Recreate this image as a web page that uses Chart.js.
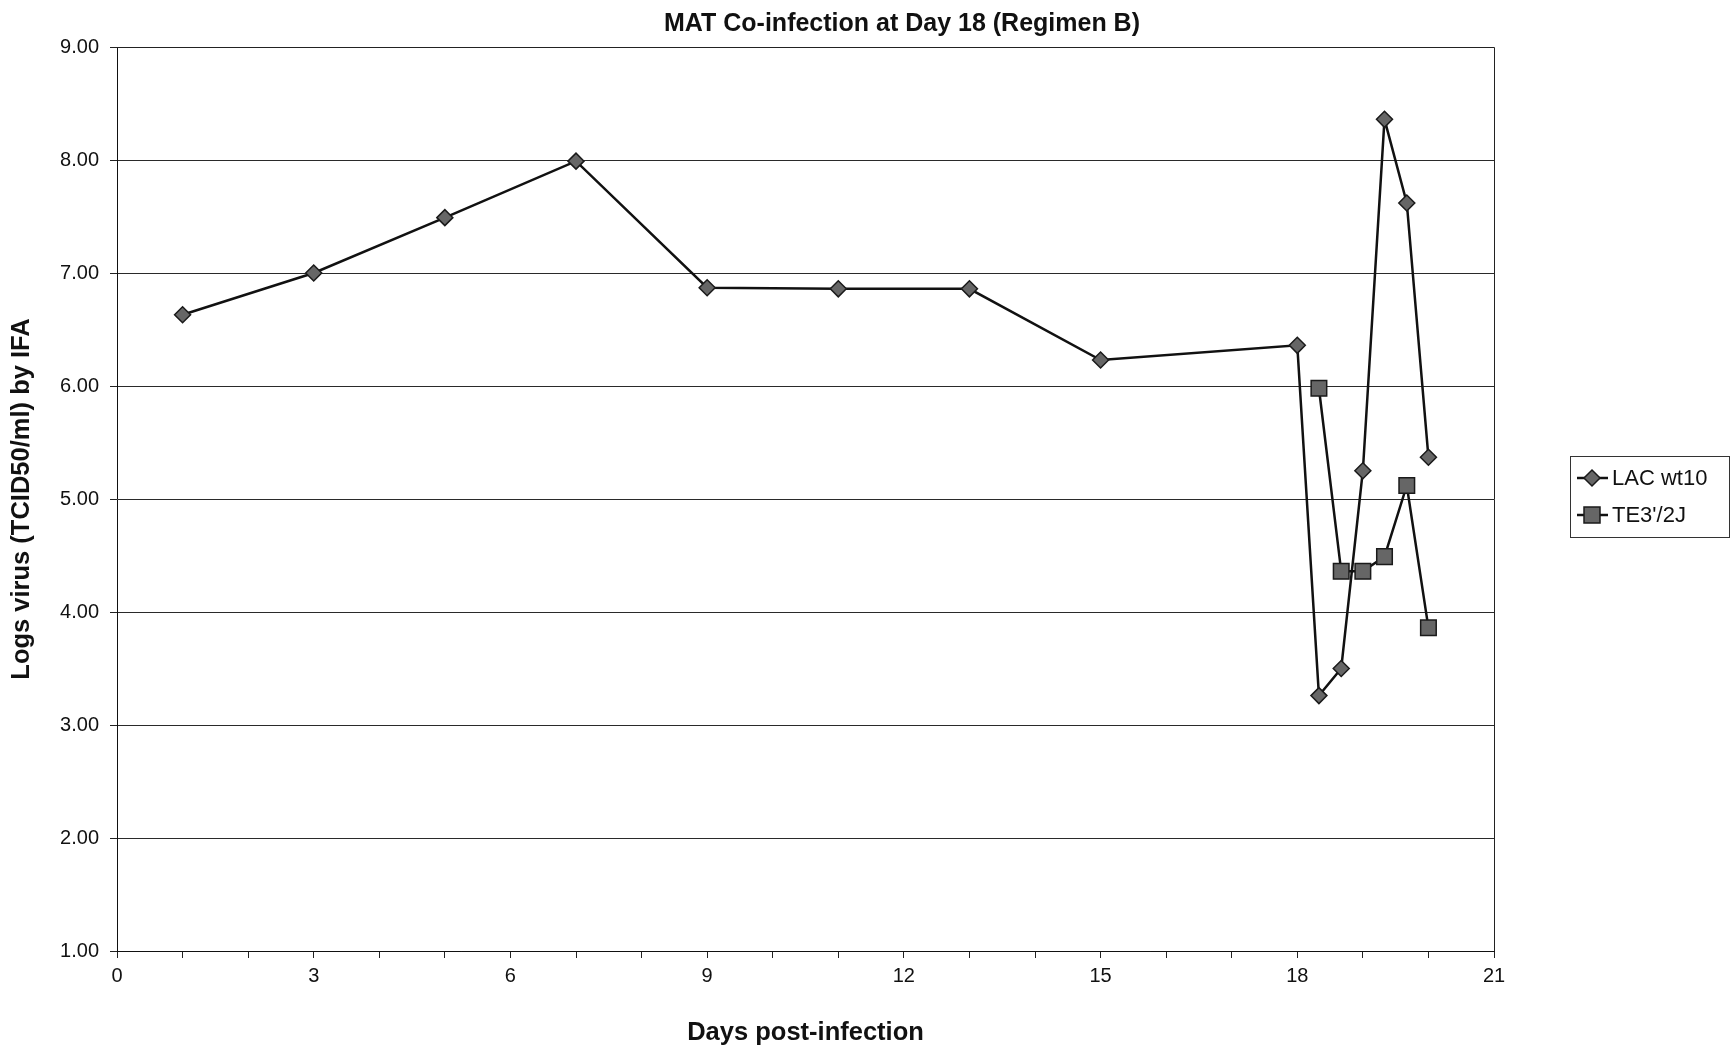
<!DOCTYPE html>
<html>
<head>
<meta charset="utf-8">
<title>MAT Co-infection at Day 18 (Regimen B)</title>
<script src="https://cdn.jsdelivr.net/npm/chart.js@4.4.1/dist/chart.umd.min.js"></script>
<style>
  html, body { margin: 0; padding: 0; background: #fff; }
  #chart { display: block; }
</style>
</head>
<body>
<canvas id="chart" width="1732" height="1048"></canvas>
<script>
// days post-infection and log titres for each virus
const lacDays = [1, 3, 5, 7, 9, 11, 13, 15, 18, 18.33, 18.67, 19, 19.33, 19.67, 20];
const lacLogs = [6.63, 7.00, 7.49, 7.99, 6.87, 6.86, 6.86, 6.23, 6.36, 3.26, 3.50, 5.25, 8.36, 7.62, 5.37];
const teDays = [18.33, 18.67, 19, 19.33, 19.67, 20];
const teLogs = [5.98, 4.36, 4.36, 4.49, 5.12, 3.86];

const seriesNames = ["LAC wt10", "TE3'/2J"];
const chartTitle = "MAT Co-infection at Day 18 (Regimen B)";
const xTitle = "Days post-infection";
const yTitle = "Logs virus (TCID50/ml) by IFA";

const FONT = "'Liberation Sans', Arial, sans-serif";
const LINE = "#111";
const MARK_FILL = "#666";
const MARK_EDGE = "#1a1a1a";

const toPoints = (xs, ys) => xs.map((x, i) => ({ x: x, y: ys[i] }));

const drawDiamond = (ctx, x, y, r) => {
  ctx.beginPath();
  ctx.moveTo(x, y - r);
  ctx.lineTo(x + r, y);
  ctx.lineTo(x, y + r);
  ctx.lineTo(x - r, y);
  ctx.closePath();
  ctx.fill();
  ctx.stroke();
};

const drawSquare = (ctx, x, y, h) => {
  ctx.beginPath();
  ctx.rect(x - h, y - h, h * 2, h * 2);
  ctx.fill();
  ctx.stroke();
};

// title, frame around the plot and the boxed legend on the right
const decorations = {
  id: "decorations",
  afterDraw(chart) {
    const ctx = chart.ctx;
    const area = chart.chartArea;

    ctx.save();
    ctx.strokeStyle = "#222";
    ctx.lineWidth = 1;
    ctx.beginPath();
    ctx.moveTo(area.left, area.top + 0.5);
    ctx.lineTo(area.right + 0.5, area.top + 0.5);
    ctx.lineTo(area.right + 0.5, area.bottom);
    ctx.stroke();

    ctx.fillStyle = "#111";
    ctx.font = "bold 25px " + FONT;
    ctx.textAlign = "center";
    ctx.textBaseline = "middle";
    ctx.fillText(chartTitle, 902, 24);

    // legend
    const box = { left: 1570, top: 456, right: 1729, bottom: 537 };
    ctx.strokeStyle = "#333";
    ctx.lineWidth = 1;
    ctx.strokeRect(box.left + 0.5, box.top + 0.5, box.right - box.left, box.bottom - box.top);

    const rows = [478, 515];
    ctx.font = "22px " + FONT;
    ctx.textAlign = "left";
    rows.forEach((ry, i) => {
      ctx.strokeStyle = LINE;
      ctx.lineWidth = 2.5;
      ctx.beginPath();
      ctx.moveTo(1577, ry);
      ctx.lineTo(1608, ry);
      ctx.stroke();

      ctx.fillStyle = MARK_FILL;
      ctx.strokeStyle = MARK_EDGE;
      ctx.lineWidth = 1.5;
      if (i === 0) {
        drawDiamond(ctx, 1592, ry, 8);
      } else {
        drawSquare(ctx, 1592, ry, 8);
      }

      ctx.fillStyle = "#111";
      ctx.fillText(seriesNames[i], 1612, ry + 1);
    });
    ctx.restore();
  },
};

const ctx = document.getElementById("chart").getContext("2d");

const chart = new Chart(ctx, {
  type: "line",
  data: {
    datasets: [
      {
        label: seriesNames[0],
        data: toPoints(lacDays, lacLogs),
        borderColor: LINE,
        borderWidth: 2.5,
        pointStyle: "rectRot",
        pointRadius: 8,
        pointBackgroundColor: MARK_FILL,
        pointBorderColor: MARK_EDGE,
        pointBorderWidth: 1.5,
        tension: 0,
        fill: false,
      },
      {
        label: seriesNames[1],
        data: toPoints(teDays, teLogs),
        borderColor: LINE,
        borderWidth: 2.5,
        pointStyle: "rect",
        pointRadius: 11,
        pointBackgroundColor: MARK_FILL,
        pointBorderColor: MARK_EDGE,
        pointBorderWidth: 1.5,
        tension: 0,
        fill: false,
      },
    ],
  },
  options: {
    responsive: false,
    animation: false,
    devicePixelRatio: 1,
    layout: { padding: { top: 47, right: 238, bottom: 0, left: 0 } },
    plugins: {
      legend: { display: false },
      title: { display: false },
      tooltip: { enabled: false },
    },
    scales: {
      x: {
        type: "linear",
        min: 0,
        max: 21,
        afterFit: (scale) => { scale.height = 97; },
        border: { display: true, color: "#111", width: 1 },
        grid: {
          drawOnChartArea: false,
          drawTicks: true,
          tickLength: 7,
          tickColor: "#222",
        },
        ticks: {
          stepSize: 1,
          autoSkip: false,
          maxRotation: 0,
          padding: 6,
          color: "#111",
          font: { family: FONT, size: 20 },
          callback: (v) => (v % 3 === 0 ? String(v) : ""),
        },
        title: {
          display: true,
          text: xTitle,
          color: "#111",
          font: { family: FONT, size: 25.5, weight: "bold" },
          padding: { top: 0, bottom: 0 },
        },
      },
      y: {
        min: 1,
        max: 9,
        afterFit: (scale) => { scale.width = 117; },
        border: { display: true, color: "#111", width: 1 },
        grid: {
          color: "#2a2a2a",
          lineWidth: 1,
          drawTicks: true,
          tickLength: 7,
          tickColor: "#222",
        },
        ticks: {
          stepSize: 1,
          padding: 11,
          color: "#111",
          font: { family: FONT, size: 20 },
          callback: (v) => v.toFixed(2),
        },
        title: {
          display: true,
          text: yTitle,
          color: "#111",
          font: { family: FONT, size: 25.5, weight: "bold" },
          padding: { top: 7, bottom: 0 },
        },
      },
    },
  },
  plugins: [decorations],
});
</script>
</body>
</html>
